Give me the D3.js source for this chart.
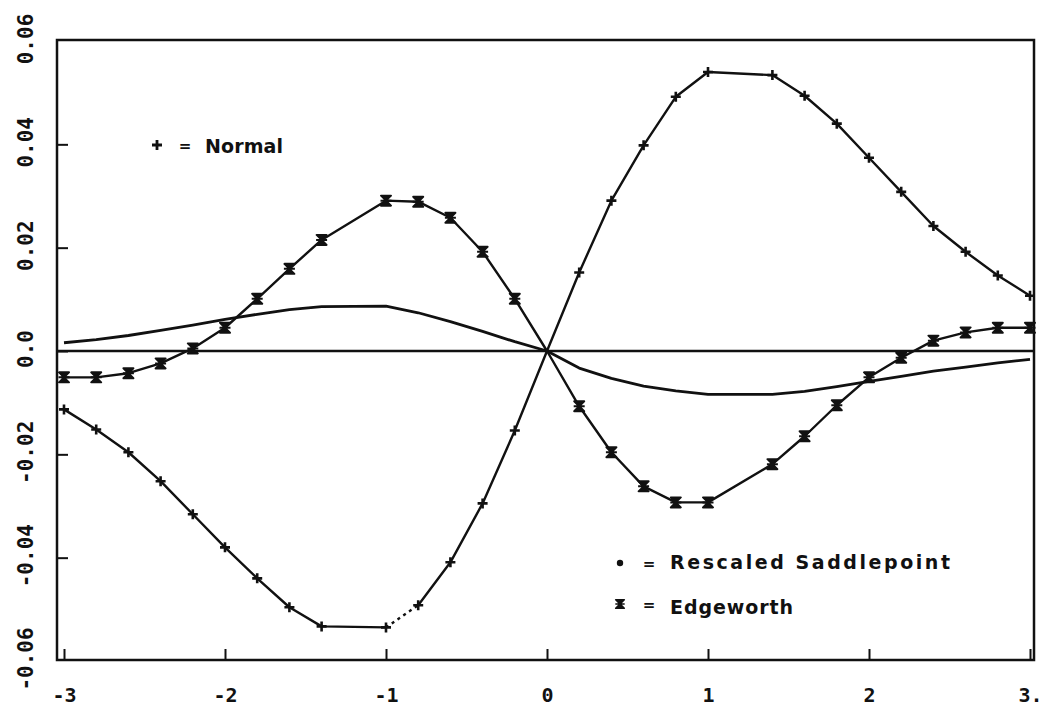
<!DOCTYPE html>
<html>
<head>
<meta charset="utf-8">
<script src="https://cdn.jsdelivr.net/npm/d3@7"></script>
<style>
  body { margin: 0; background: #fff; }
  svg { display: block; }
  .tick-label { font-family: "DejaVu Sans Mono", monospace; font-weight: bold; fill: #111; }
  .legend { font-family: "DejaVu Sans", sans-serif; font-weight: bold; fill: #111; }
</style>
</head>
<body>
<div id="chart"></div>
<script>
// Data
////////////////////////////////////////////////////////////////////
const xValues = [-3, -2.8, -2.6, -2.4, -2.2, -2, -1.8, -1.6, -1.4, -1.0, -0.8, -0.6, -0.4, -0.2, 0,
  0.2, 0.4, 0.6, 0.8, 1.0, 1.4, 1.6, 1.8, 2.0, 2.2, 2.4, 2.6, 2.8, 3.0];

const normalValues = [-0.0113, -0.0152, -0.0196, -0.0252, -0.0316, -0.0380, -0.0440, -0.0496, -0.0533,
  -0.0535, -0.0492, -0.0409, -0.0295, -0.0154, 0, 0.0152, 0.0291, 0.0398, 0.0492, 0.0540, 0.0534,
  0.0494, 0.0440, 0.0374, 0.0308, 0.0242, 0.0192, 0.0146, 0.0107];

const edgeworthValues = [-0.0051, -0.0051, -0.0043, -0.0024, 0.0005, 0.0045, 0.0101, 0.0159, 0.0215,
  0.0291, 0.0289, 0.0258, 0.0192, 0.0101, 0, -0.0107, -0.0196, -0.0262, -0.0293, -0.0293, -0.0219,
  -0.0165, -0.0105, -0.0051, -0.0013, 0.0020, 0.0036, 0.0045, 0.0045];

const saddleValues = [0.0016, 0.0022, 0.0030, 0.0040, 0.0050, 0.0061, 0.0071, 0.0080, 0.0086,
  0.0087, 0.0074, 0.0057, 0.0038, 0.0018, 0, -0.0033, -0.0053, -0.0068, -0.0077, -0.0084, -0.0084,
  -0.0078, -0.0069, -0.0059, -0.0049, -0.0039, -0.0031, -0.0023, -0.0016];

const xTicks = [-3, -2, -1, 0, 1, 2, 3];
const xTickLabels = ["-3", "-2", "-1", "0", "1", "2", "3."];
const yTicks = [-0.06, -0.04, -0.02, 0, 0.02, 0.04, 0.06];
const yTickLabels = ["-0.06", "-0.04", "-0.02", "0.0", "0.02", "0.04", "0.06"];

// Normal has a dotted piece between these two x values
const dottedFrom = -1.0;
const dottedTo = -0.8;

// Dimensions
////////////////////////////////////////////////////////////////////
const dimensions = {
  width: 1044,
  height: 707,
  frame: { left: 57, right: 1034, top: 40, bottom: 660 },
};

const svg = d3.select("#chart")
  .append("svg")
  .attr("width", dimensions.width)
  .attr("height", dimensions.height);

// Scales
////////////////////////////////////////////////////////////////////
const xScale = d3.scaleLinear().domain([-3, 3]).range([64, 1030]);
const yScale = d3.scaleLinear().domain([-0.06, 0.06]).range([661, 41]);

const ink = "#111";

// Frame
svg.append("rect")
  .attr("x", dimensions.frame.left)
  .attr("y", dimensions.frame.top)
  .attr("width", dimensions.frame.right - dimensions.frame.left)
  .attr("height", dimensions.frame.bottom - dimensions.frame.top)
  .attr("fill", "none")
  .attr("stroke", ink)
  .attr("stroke-width", 2.5);

// Axes
////////////////////////////////////////////////////////////////////
const xAxis = d3.axisBottom(xScale)
  .tickValues(xTicks)
  .tickSize(-11)
  .tickPadding(28)
  .tickFormat((d, i) => xTickLabels[i]);

const xAxisGroup = svg.append("g")
  .attr("transform", `translate(0,${dimensions.frame.bottom})`)
  .call(xAxis);
xAxisGroup.select(".domain").remove();
xAxisGroup.selectAll("line").attr("stroke", ink).attr("stroke-width", 2);
xAxisGroup.selectAll("text")
  .attr("class", "tick-label")
  .style("font-size", "20px")
  .attr("fill", ink);

const yAxis = d3.axisLeft(yScale)
  .tickValues(yTicks.filter((d) => d > -0.06 && d < 0.06))
  .tickSize(-11)
  .tickFormat("");

const yAxisGroup = svg.append("g")
  .attr("transform", `translate(${dimensions.frame.left},0)`)
  .call(yAxis);
yAxisGroup.select(".domain").remove();
yAxisGroup.selectAll("line").attr("stroke", ink).attr("stroke-width", 2);

// rotated y labels
svg.append("g")
  .selectAll("text")
  .data(yTicks)
  .join("text")
  .attr("class", "tick-label")
  .attr("text-anchor", "middle")
  .attr("transform", (d) => `translate(33,${yScale(d) - 2}) rotate(-90)`)
  .style("font-size", "21px")
  .text((d, i) => yTickLabels[i]);

// Lines
////////////////////////////////////////////////////////////////////
const toPoints = (vals) => xValues.map((x, i) => ({ x, y: vals[i] }));
const normal = toPoints(normalValues);
const edgeworth = toPoints(edgeworthValues);
const saddle = toPoints(saddleValues);

const line = d3.line().x((d) => xScale(d.x)).y((d) => yScale(d.y));

// zero reference line across the frame
svg.append("line")
  .attr("x1", dimensions.frame.left)
  .attr("x2", dimensions.frame.right)
  .attr("y1", yScale(0))
  .attr("y2", yScale(0))
  .attr("stroke", ink)
  .attr("stroke-width", 2.5);

const lines = svg.append("g")
  .attr("fill", "none")
  .attr("stroke", ink)
  .attr("stroke-width", 2.4)
  .attr("stroke-linejoin", "round");

lines.append("path").attr("d", line(saddle)).attr("stroke-width", 2.8);
lines.append("path").attr("d", line(edgeworth));

const iFrom = xValues.indexOf(dottedFrom);
const iTo = xValues.indexOf(dottedTo);
lines.append("path").attr("d", line(normal.slice(0, iFrom + 1)));
lines.append("path").attr("d", line(normal.slice(iTo)));
lines.append("path")
  .attr("d", line(normal.slice(iFrom, iTo + 1)))
  .attr("stroke-dasharray", "3 4");

// Markers
////////////////////////////////////////////////////////////////////
const plusPath = "M-5,0H5M0,-5V5";
const edgePath = "M-5,-5H5L0,0L5,5H-5L0,0Z M-5.5,0H5.5";

const markers = svg.append("g").attr("stroke", ink);

markers.selectAll(".plus")
  .data(normal.filter((d) => d.x !== 0))
  .join("path")
  .attr("class", "plus")
  .attr("transform", (d) => `translate(${xScale(d.x)},${yScale(d.y)})`)
  .attr("d", plusPath)
  .attr("fill", "none")
  .attr("stroke-width", 2.6);

markers.selectAll(".edge")
  .data(edgeworth.filter((d) => d.x !== 0))
  .join("path")
  .attr("class", "edge")
  .attr("transform", (d) => `translate(${xScale(d.x)},${yScale(d.y)})`)
  .attr("d", edgePath)
  .attr("fill", ink)
  .attr("stroke-width", 2)
  .attr("stroke-linejoin", "round");

// Legend
////////////////////////////////////////////////////////////////////
const legend = svg.append("g");

legend.append("path")
  .attr("transform", "translate(157,145)")
  .attr("d", plusPath)
  .attr("fill", "none")
  .attr("stroke", ink)
  .attr("stroke-width", 2.8);
legend.append("text").attr("class", "legend").attr("x", 185).attr("y", 151)
  .attr("text-anchor", "middle").style("font-size", "15px").text("=");
legend.append("text").attr("class", "legend").attr("x", 205).attr("y", 153)
  .style("font-size", "19px").attr("textLength", 78).attr("lengthAdjust", "spacing")
  .text("Normal");

legend.append("circle")
  .attr("cx", 620).attr("cy", 563).attr("r", 3.2).attr("fill", ink);
legend.append("text").attr("class", "legend").attr("x", 649).attr("y", 569)
  .attr("text-anchor", "middle").style("font-size", "15px").text("=");
legend.append("text").attr("class", "legend").attr("x", 670).attr("y", 569)
  .style("font-size", "19px").attr("textLength", 280).attr("lengthAdjust", "spacing")
  .text("Rescaled Saddlepoint");

legend.append("path")
  .attr("transform", "translate(620,604) scale(0.85)")
  .attr("d", edgePath)
  .attr("fill", ink)
  .attr("stroke", ink)
  .attr("stroke-width", 2)
  .attr("stroke-linejoin", "round");
legend.append("text").attr("class", "legend").attr("x", 649).attr("y", 610)
  .attr("text-anchor", "middle").style("font-size", "15px").text("=");
legend.append("text").attr("class", "legend").attr("x", 670).attr("y", 614)
  .style("font-size", "19px").attr("textLength", 123).attr("lengthAdjust", "spacing")
  .text("Edgeworth");
</script>
</body>
</html>
